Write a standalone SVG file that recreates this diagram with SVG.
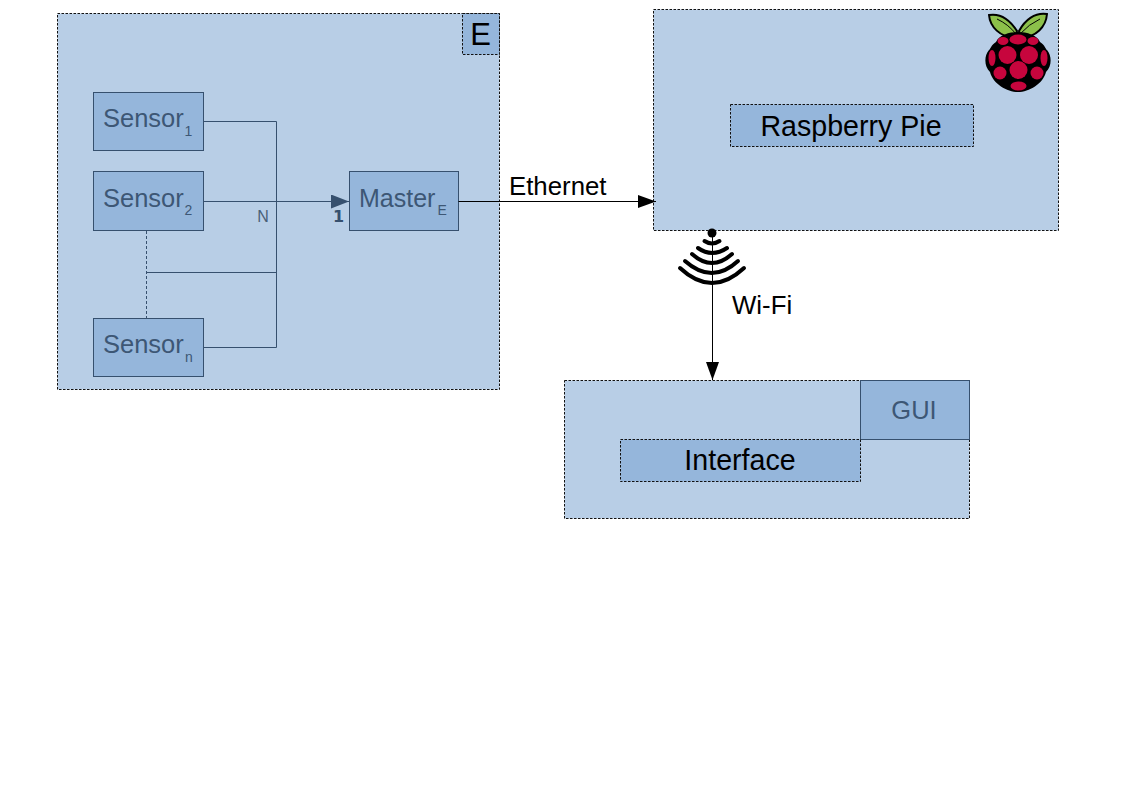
<svg xmlns="http://www.w3.org/2000/svg" width="1123" height="794" viewBox="0 0 1123 794">
<style>
text{font-family:"Liberation Sans",Arial,sans-serif}
.panel{fill:#b8cee6;stroke:#111;stroke-width:1;stroke-dasharray:2.5 1.5}
.inner{fill:#95b6db;stroke:#111;stroke-width:1;stroke-dasharray:2.5 1.5}
.box{fill:#95b6db;stroke:#36506e;stroke-width:1}
.lbl{fill:#3d5775;font-size:25.5px}
.sub{fill:#3d5775;font-size:14px}
.blk{fill:#000;font-size:28.6px}
.w{fill:none;stroke:#36506e;stroke-width:1}
.k{fill:none;stroke:#000;stroke-width:1}
.arc{fill:none;stroke:#000;stroke-width:4;stroke-linecap:round}
.berry{fill:#c7053d}
.rib{fill:none;stroke:#000;stroke-width:1}
</style>
<defs>
<marker id="ah" markerUnits="userSpaceOnUse" markerWidth="18" markerHeight="14" refX="18" refY="7" orient="auto"><path d="M0 0L18 7L0 14z" fill="#36506e"/></marker>
<marker id="ak" markerUnits="userSpaceOnUse" markerWidth="18" markerHeight="16" refX="18" refY="8" orient="auto"><path d="M0 1.500L18 8L0 14.500z" fill="#000"/></marker>
</defs>
<g id="panel-e">
<rect class="panel" x="57.500" y="13.500" width="442" height="376"/>
<rect class="inner" x="462.500" y="13.500" width="37" height="41"/>
<text x="480.500" y="45" text-anchor="middle" class="blk" style="font-size:31px">E</text>
</g>
<g id="panel-pi">
<rect class="panel" x="653.500" y="9.500" width="405" height="221"/>
</g>
<g id="raspberry-logo">
<path d="M1017 31C1010 20 1001 13 989 15C990 27 1000 37 1015 38zM1019 31C1025 20 1035 12 1047 14C1046 27 1036 37 1021 38z" fill="#8cc04a" stroke="#000" stroke-width="2"/>
<path class="rib" d="M997 19Q1008 24 1016 34M1040 19Q1029 24 1020 34"/>
<path d="M1018 32C1027 32 1037 35 1040 42C1045 45 1046 50 1047 50C1052 56 1052 66 1046 72C1043 84 1029 92 1018 92C1007 92 993 84 990 72C984 66 984 56 989 50C990 50 991 45 996 42C999 35 1009 32 1018 32z" fill="#000"/>
<ellipse class="berry" cx="1018" cy="39.500" rx="8.500" ry="5"/>
<ellipse class="berry" cx="1003" cy="41" rx="5.500" ry="4"/>
<ellipse class="berry" cx="1033" cy="41" rx="5.500" ry="4"/>
<circle class="berry" cx="1007.500" cy="55" r="9"/>
<circle class="berry" cx="1029" cy="55" r="9"/>
<ellipse class="berry" cx="992" cy="58" rx="3.500" ry="8"/>
<ellipse class="berry" cx="1044" cy="58" rx="3.500" ry="8"/>
<circle class="berry" cx="1018.500" cy="70" r="9"/>
<circle class="berry" cx="1000" cy="73" r="6.500"/>
<circle class="berry" cx="1037" cy="73" r="6.500"/>
<ellipse class="berry" cx="1018.500" cy="86" rx="8" ry="4.500"/>
</g>
<g id="raspberry-pie">
<rect class="inner" x="730.500" y="104.500" width="243" height="42"/>
<text x="851" y="136" text-anchor="middle" class="blk">Raspberry Pie</text>
</g>
<g id="sensor-1">
<rect class="box" x="93.500" y="92.500" width="110" height="58"/>
<text x="103" y="127" class="lbl">Sensor</text><text x="184.500" y="136" class="sub">1</text>
</g>
<g id="sensor-2">
<rect class="box" x="93.500" y="171.500" width="110" height="59"/>
<text x="103" y="207" class="lbl">Sensor</text><text x="184.500" y="215" class="sub">2</text>
</g>
<g id="sensor-n">
<rect class="box" x="93.500" y="318.500" width="110" height="58"/>
<text x="103" y="353" class="lbl">Sensor</text><text x="185" y="362" class="sub">n</text>
</g>
<g id="master">
<rect class="box" x="349.500" y="171.500" width="109" height="59"/>
<text x="359" y="207" class="lbl" style="font-size:25px">Master</text><text x="437.500" y="214.500" class="sub">E</text>
</g>
<g id="interface-panel">
<rect class="panel" x="564.500" y="380.500" width="405" height="138"/>
</g>
<g id="gui">
<rect class="box" x="860.500" y="380.500" width="109" height="59"/>
<text x="914" y="419" text-anchor="middle" class="lbl">GUI</text>
</g>
<g id="interface">
<rect class="inner" x="620.500" y="439.500" width="240" height="42"/>
<text x="740" y="470" text-anchor="middle" class="blk">Interface</text>
</g>
<g id="connectors">
<path class="w" d="M203.500 121.500H276.500V347.500H203.500"/>
<path class="w" d="M146.500 231V318" stroke-dasharray="3 2"/>
<path class="w" d="M146.500 272.500H276.500"/>
<path class="w" d="M203.500 201.500H349" marker-end="url(#ah)"/>
<path class="k" d="M458.500 201.500H656" marker-end="url(#ak)"/>
<path class="k" d="M712.500 231V380" marker-end="url(#ak)"/>
</g>
<g id="wifi">
<circle cx="712" cy="233" r="4.500" fill="#000"/>
<path class="arc" d="M704.500 241Q712 246 719.500 241"/>
<path class="arc" d="M698 248Q712 258 727 248"/>
<path class="arc" d="M692 254Q712 272 732 254"/>
<path class="arc" d="M685 261Q712 285 738 261"/>
<path class="arc" d="M680 268Q712 298 744 268"/>
</g>
<g id="labels">
<text x="263" y="222" text-anchor="middle" fill="#4a6078" font-size="16">N</text>
<text x="338.500" y="222" text-anchor="middle" fill="#36506e" font-size="16" font-weight="700" style="font-family:'DejaVu Sans',sans-serif">1</text>
<text x="509" y="195" fill="#000" font-size="25.800">Ethernet</text>
<text x="732" y="314" fill="#000" font-size="25.800">Wi-Fi</text>
</g>
</svg>
